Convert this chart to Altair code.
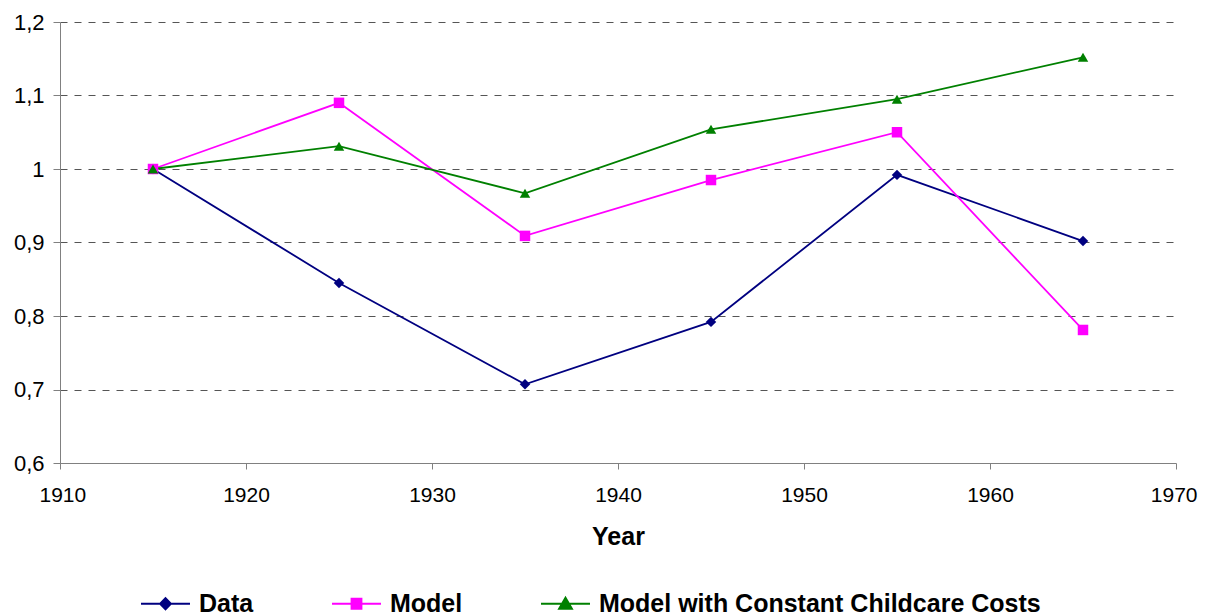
import altair as alt
import pandas as pd

years = [1915, 1925, 1935, 1945, 1955, 1965]
data_vals = [1.0, 0.845, 0.707, 0.792, 0.992, 0.902]
model_vals = [1.0, 1.090, 0.909, 0.985, 1.050, 0.781]
const_vals = [1.0, 1.031, 0.967, 1.054, 1.095, 1.152]
series_names = ["Data", "Model", "Model with Constant Childcare Costs"]
colors = ["#000080", "#FF00FF", "#008000"]
x_ticks = [1910, 1920, 1930, 1940, 1950, 1960, 1970]
y_ticks = [0.6, 0.7, 0.8, 0.9, 1.0, 1.1, 1.2]

rows = []
for name, vals in zip(series_names, [data_vals, model_vals, const_vals]):
    for yr, v in zip(years, vals):
        rows.append({"Year": yr, "value": v, "series": name})
df = pd.DataFrame(rows)

marker_shapes = ["diamond", "square", "triangle-up"]
legend_shapes = [
    "M-1,0H1M0,-0.23L0.22,0L0,0.23L-0.22,0Z",
    "M-1,0H1M-0.2,-0.2H0.2V0.2H-0.2Z",
    "M-1,0H1M0,-0.25L0.26,0.2L-0.26,0.2Z",
]

FONT = "Liberation Sans"

x_enc = alt.X(
    "Year:Q",
    scale=alt.Scale(domain=[1910, 1970], nice=False, zero=False),
    axis=alt.Axis(
        values=x_ticks, format="d", title="Year", grid=False,
        labelFlush=True, labelFlushOffset=21,
        labelFont=FONT, labelFontSize=21, labelColor="#000", labelPadding=15,
        titleFont=FONT, titleFontSize=25, titleFontWeight="bold", titleColor="#000",
        titlePadding=19, domainColor="#808080", tickColor="#808080", tickSize=6,
    ),
)
y_enc = alt.Y(
    "value:Q",
    scale=alt.Scale(domain=[0.6, 1.2], nice=False, zero=False),
    axis=alt.Axis(
        values=y_ticks, title=None, labelFlush=False,
        labelExpr="replace(format(datum.value, '.2~f'), '.', ',')",
        labelFont=FONT, labelFontSize=22, labelColor="#000", labelPadding=9,
        domainColor="#808080", tickColor="#808080", tickSize=7,
        grid=True, gridColor="#555555", gridDash=[7, 7], gridWidth=1,
    ),
)

color_scale = alt.Scale(domain=series_names, range=colors)

lines = alt.Chart(df).mark_line(strokeWidth=1.8).encode(
    x=x_enc, y=y_enc,
    color=alt.Color("series:N", scale=color_scale, legend=None),
    detail="series:N",
)

markers = alt.Chart(df).mark_point(filled=True, opacity=1, size=110).encode(
    x=x_enc, y=y_enc,
    color=alt.Color("series:N", scale=color_scale, legend=None),
    shape=alt.Shape("series:N", scale=alt.Scale(domain=series_names, range=marker_shapes), legend=None),
)

leg = alt.Legend(title=None, orient="none", legendX=80, legendY=556, direction="horizontal")

legend_layer = alt.Chart(df).mark_point(filled=True, opacity=0).encode(
    x=x_enc, y=y_enc,
    fill=alt.Fill("series:N", scale=color_scale, legend=leg),
    stroke=alt.Stroke("series:N", scale=color_scale, legend=leg),
    shape=alt.Shape("series:N", scale=alt.Scale(domain=series_names, range=legend_shapes), legend=leg),
)

chart = alt.layer(lines, markers, legend_layer).resolve_scale(
    shape="independent", fill="independent", stroke="independent"
).properties(
    width=1116, height=441,
    autosize=alt.AutoSizeParams(type="none"),
    padding={"left": 52, "top": 14, "right": 22, "bottom": 160},
).configure_view(stroke=None).configure_legend(
    symbolOpacity=1, symbolSize=2400, symbolStrokeWidth=2,
    labelFont=FONT, labelFontSize=25, labelFontWeight="bold",
    labelColor="#000", labelOffset=8, columnPadding=74, labelLimit=700,
)

chart.save("out.html", embed_options={"renderer": "svg", "actions": False})
